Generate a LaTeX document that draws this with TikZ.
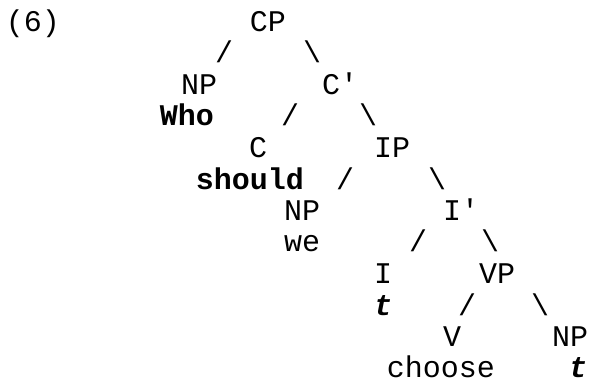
\documentclass[tikz,border=0pt]{standalone}
\usepackage{fontspec}
\newfontfamily\treefont{Liberation Mono}
\begin{document}
\begin{tikzpicture}[
    x=0.5pt, y=-0.5pt,
    word/.style={inner sep=0pt, anchor=base, font=\treefont\fontsize{15}{18}\selectfont},
    lex/.style={word, font=\treefont\bfseries\fontsize{15}{18}\selectfont},
    trace/.style={word, font=\treefont\bfseries\itshape\fontsize{15}{18}\selectfont},
    ]
    \useasboundingbox (0,0) rectangle (589,383);

    %Nodes
    \node[word] at (33, 32) (ex) {(6)};
    \node[word] at (268, 32) (cp) {CP};
    \node[word] at (199, 95) (np1) {NP};
    \node[lex] at (187, 126) (who) {Who};
    \node[word] at (340, 95) (cbar) {C'};
    \node[word] at (258, 158) (c) {C};
    \node[lex] at (250, 190) (should) {should};
    \node[word] at (392, 158) (ip) {IP};
    \node[word] at (302, 221) (np2) {NP};
    \node[word] at (302, 252) (we) {we};
    \node[word] at (461, 221) (ibar) {I'};
    \node[word] at (383, 284) (i) {I};
    \node[trace] at (383, 316) (ti) {t};
    \node[word] at (497, 284) (vp) {VP};
    \node[word] at (452, 347) (v) {V};
    \node[word] at (441, 378) (choose) {choose};
    \node[word] at (570, 347) (np3) {NP};
    \node[trace] at (578, 378) (tnp) {t};

    %Branches
    \node[word] at (224, 63) (cp-l) {/};
    \node[word] at (312, 63) (cp-r) {\char`\\};
    \node[word] at (290, 126) (cbar-l) {/};
    \node[word] at (368, 126) (cbar-r) {\char`\\};
    \node[word] at (345, 190) (ip-l) {/};
    \node[word] at (437, 190) (ip-r) {\char`\\};
    \node[word] at (418, 252) (ibar-l) {/};
    \node[word] at (490, 252) (ibar-r) {\char`\\};
    \node[word] at (467, 316) (vp-l) {/};
    \node[word] at (540, 316) (vp-r) {\char`\\};
\end{tikzpicture}
\end{document}
